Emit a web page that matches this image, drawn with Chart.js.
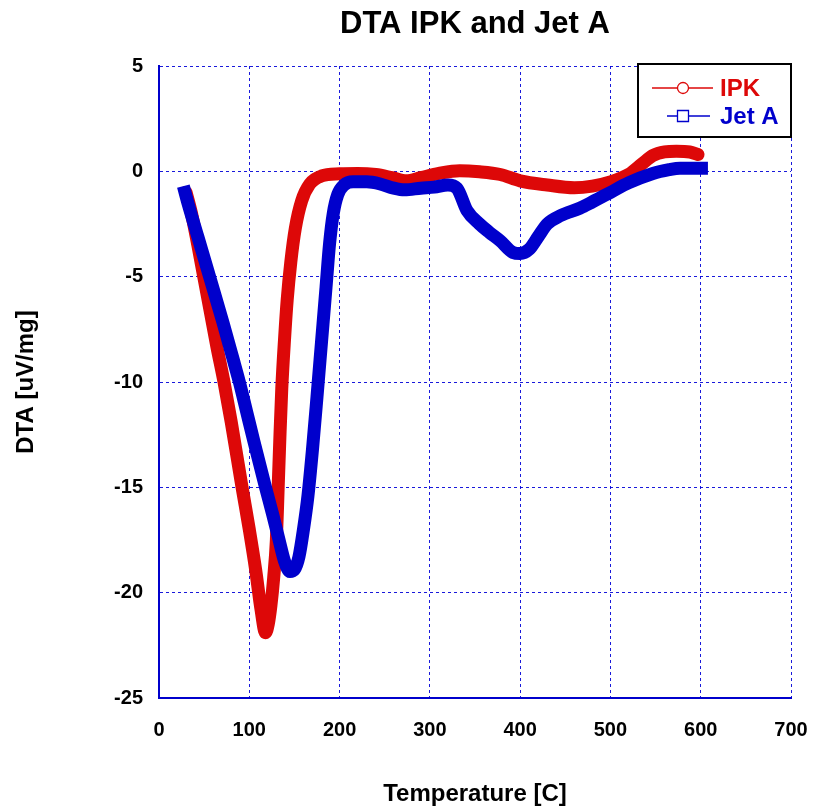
<!DOCTYPE html>
<html>
<head>
<meta charset="utf-8">
<script src="https://cdn.jsdelivr.net/npm/chart.js@4"></script>
<style>
  body { margin: 0; background: #fff; }
  canvas { display: block; }
</style>
</head>
<body>
<canvas id="myChart" width="814" height="810"></canvas>
<script>
// IPK curve (temperature in C, DTA in uV/mg)
const ipkTemp = [30, 36, 43, 50, 57, 64, 72, 80, 92, 100, 107, 113, 118, 121, 124, 127, 130, 132, 134, 136, 139, 142, 146, 151, 158, 167, 180, 200, 220, 240, 258, 274, 290, 310, 333, 355, 378, 400, 430, 460, 480, 500, 522, 535, 547, 560, 573, 588, 597];
const ipkDta = [-1.0, -2.0, -3.5, -5.1, -6.7, -8.3, -10, -11.9, -15, -17, -18.9, -20.8, -21.9, -21.5, -20.6, -19.3, -17.5, -15, -12.5, -10.3, -8, -6.1, -4.3, -2.7, -1.4, -0.6, -0.22, -0.12, -0.1, -0.15, -0.3, -0.45, -0.3, -0.1, 0.03, -0.02, -0.15, -0.45, -0.65, -0.78, -0.7, -0.5, -0.1, 0.35, 0.75, 0.92, 0.95, 0.92, 0.8];

// Jet A curve
const jetTemp = [27, 32, 43, 56, 71, 82, 89, 97, 105, 118, 126, 133, 139, 145, 150, 155, 160, 165, 170, 175, 180, 185, 189, 193, 198, 205, 215, 230, 245, 260, 272, 290, 305, 320, 330, 341, 355, 366, 378, 392, 400, 410, 420, 430, 445, 466, 480, 500, 520, 547, 565, 577, 608];
const jetDta = [-0.7, -1.5, -3.1, -5, -7.2, -8.9, -10, -11.4, -12.8, -15, -16.3, -17.5, -18.5, -19, -18.9, -18.3, -17.0, -15.4, -13.2, -10.7, -8.1, -5.5, -3.4, -2.0, -1.1, -0.65, -0.5, -0.5, -0.6, -0.8, -0.88, -0.8, -0.75, -0.65, -0.8, -1.85, -2.5, -2.9, -3.3, -3.85, -3.9, -3.7, -3.1, -2.5, -2.1, -1.75, -1.45, -1.0, -0.55, -0.1, 0.08, 0.15, 0.15];

const seriesNames = ['IPK', 'Jet A'];
const seriesColors = ['#dd0808', '#0000cc'];

// axis ranges
const xMin = 0, xMax = 700, xStep = 100;
const yMin = -25, yMax = 5, yStep = 5;

function toPoints(xs, ys) {
    return xs.map((x, i) => ({ x: x, y: ys[i] }));
}

const FONT = "'Liberation Sans', Arial, sans-serif";
const gridBlue = 'rgba(0, 0, 215, 0.9)';

// title + boxed legend drawn on top of the plot
const decorations = {
    id: 'decorations',
    afterDraw(chart) {
        const ctx = chart.ctx;
        const area = chart.chartArea;
        ctx.save();
        ctx.fillStyle = '#000';
        ctx.font = 'bold 31px ' + FONT;
        ctx.textAlign = 'center';
        ctx.textBaseline = 'middle';
        ctx.fillText('DTA IPK and Jet A', (area.left + area.right) / 2, 24);

        // legend box
        const bx = area.right - 153, by = area.top - 2, bw = 153, bh = 73;
        ctx.fillStyle = '#fff';
        ctx.fillRect(bx, by, bw, bh);
        ctx.lineWidth = 2;
        ctx.strokeStyle = '#000';
        ctx.strokeRect(bx, by, bw, bh);

        ctx.textAlign = 'left';
        ctx.font = 'bold 24px ' + FONT;
        const rows = [by + 24, by + 52];
        chart.data.datasets.forEach((ds, i) => {
            const y = rows[i];
            const cx = bx + 45;
            ctx.strokeStyle = ds.borderColor;
            ctx.lineWidth = 1.3;
            ctx.beginPath();
            if (i === 0) {
                ctx.moveTo(bx + 14, y); ctx.lineTo(bx + 75, y);
            } else {
                ctx.moveTo(bx + 29, y); ctx.lineTo(bx + 72, y);
            }
            ctx.stroke();
            ctx.fillStyle = '#fff';
            ctx.beginPath();
            if (i === 0) {
                ctx.arc(cx, y, 5.5, 0, Math.PI * 2);
            } else {
                ctx.rect(cx - 5.5, y - 5.5, 11, 11);
            }
            ctx.fill();
            ctx.stroke();
            ctx.fillStyle = ds.borderColor;
            ctx.fillText(ds.label, bx + 82, y + 1);
        });
        ctx.restore();
    }
};

const ctx = document.getElementById('myChart').getContext('2d');
const myChart = new Chart(ctx, {
    type: 'line',
    data: {
        datasets: [
            {
                label: seriesNames[0],
                data: toPoints(ipkTemp, ipkDta),
                borderColor: seriesColors[0],
                borderWidth: 13,
                pointRadius: 0,
                cubicInterpolationMode: 'monotone',
                borderJoinStyle: 'round',
                borderCapStyle: 'round',
                fill: false,
                order: 2
            },
            {
                label: seriesNames[1],
                data: toPoints(jetTemp, jetDta),
                borderColor: seriesColors[1],
                borderWidth: 13,
                pointRadius: 0,
                cubicInterpolationMode: 'monotone',
                borderJoinStyle: 'round',
                fill: false,
                order: 1
            }
        ]
    },
    options: {
        responsive: false,
        animation: false,
        layout: { padding: { top: 66, right: 23, left: 0, bottom: 0 } },
        plugins: {
            legend: { display: false },
            title: { display: false },
            tooltip: { enabled: false }
        },
        scales: {
            x: {
                type: 'linear',
                min: xMin,
                max: xMax,
                ticks: {
                    stepSize: xStep,
                    color: '#000',
                    padding: 20,
                    maxRotation: 0,
                    font: { family: FONT, size: 20, weight: 'bold' }
                },
                grid: { color: gridBlue, lineWidth: 1, drawTicks: false },
                border: { display: true, color: '#0000cc', width: 2, dash: [3, 3] },
                title: {
                    display: true,
                    text: 'Temperature [C]',
                    color: '#000',
                    font: { family: FONT, size: 24, weight: 'bold' },
                    padding: { top: 0, bottom: 1 }
                },
                afterFit(scale) {
                    scale.height = 112;
                    scale.paddingLeft = 0;
                    scale.paddingRight = 0;
                }
            },
            y: {
                type: 'linear',
                min: yMin,
                max: yMax,
                ticks: {
                    stepSize: yStep,
                    color: '#000',
                    padding: 16,
                    font: { family: FONT, size: 20, weight: 'bold' }
                },
                grid: { color: gridBlue, lineWidth: 1, drawTicks: false },
                border: { display: true, color: '#0000cc', width: 2, dash: [3, 3] },
                title: {
                    display: true,
                    text: 'DTA [uV/mg]',
                    color: '#000',
                    font: { family: FONT, size: 24, weight: 'bold' },
                    padding: { top: 12, bottom: 0 }
                },
                afterFit(scale) { scale.width = 159; }
            }
        }
    },
    plugins: [decorations]
});
</script>
</body>
</html>
